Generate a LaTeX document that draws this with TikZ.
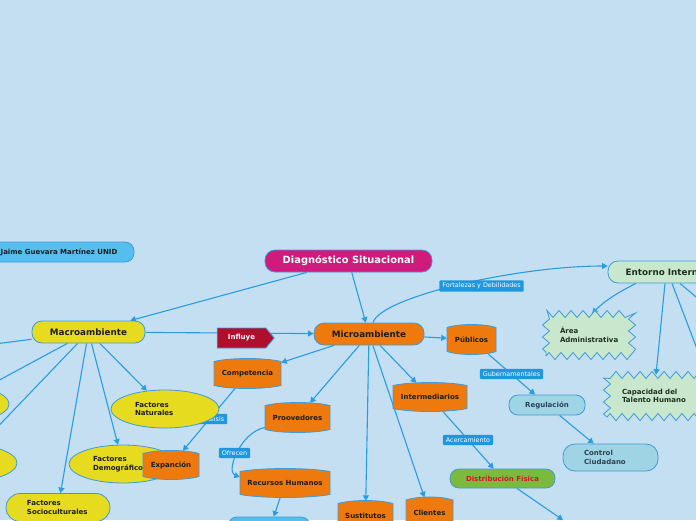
\documentclass[tikz,border=0pt]{standalone}
\usepackage{fontspec}
\setmainfont{DejaVu Sans}
\usetikzlibrary{shapes.geometric,shapes.symbols,arrows.meta,decorations.pathmorphing}
\definecolor{bg}{HTML}{C4DFF2}
\definecolor{lnc}{HTML}{2A9DE2}
\definecolor{bord}{HTML}{3D9BDB}
\definecolor{lab}{HTML}{1F97DE}
\definecolor{jaimec}{HTML}{56BEEF}
\definecolor{magen}{HTML}{D01B7D}
\definecolor{yel}{HTML}{E7DB1F}
\definecolor{ora}{HTML}{EE7A0E}
\definecolor{infl}{HTML}{B10D2D}
\definecolor{grn}{HTML}{C9E7CD}
\definecolor{lblue}{HTML}{9ED4E4}
\definecolor{dgrn}{HTML}{7DB93D}
\definecolor{dred}{HTML}{D21A2B}
\definecolor{slate}{HTML}{2C4256}
\definecolor{dtext}{HTML}{1C1C1C}
\definecolor{gtext}{HTML}{203020}
\pgfdeclarelayer{bgl}
\pgfdeclarelayer{edges}
\pgfsetlayers{bgl,edges,main}
\newcommand\tapenode[6]{%
  \path[tapeshape] (#2-#4,#3-#5+2.5) .. controls (#2-#4/2,#3-#5-1.5) and (#2+#4/2,#3-#5-1.5) .. (#2+#4,#3-#5+2.5) -- (#2+#4,#3+#5-2.5) .. controls (#2+#4/2,#3+#5+1.5) and (#2-#4/2,#3+#5+1.5) .. (#2-#4,#3+#5-2.5) -- cycle;
  \node[tapetext,minimum width=2*#4,minimum height=2*#5] (#1) at (#2,#3) {#6};}
\tikzset{
  every node/.style={font=\bfseries\fontsize{7}{8.6}\selectfont, inner sep=0pt, text=dtext},
  bigfont/.style={font=\bfseries\fontsize{8.8}{10}\selectfont},
  base/.style={draw=bord, line width=0.8pt},
  rbox/.style={base, rounded corners=9pt},
  tapeshape/.style={fill=ora, draw=bord, line width=0.8pt},
  tapetext/.style={text=dtext},
  lbl/.style={fill=lab, text=white, font=\fontsize{6.4}{7}\selectfont, inner xsep=3pt, inner ysep=2.6pt, rounded corners=1pt},
  conn/.style={draw=lnc, line width=1.1pt},
  arr/.style={conn, -{Triangle[length=5.5pt,width=6pt]}},
  ell/.style={ellipse, base, fill=yel, minimum width=108, minimum height=38},
  starbox/.style={base, fill=grn, text=gtext, decorate, decoration={zigzag,segment length=12pt,amplitude=3.5pt}},
}
\begin{document}
\begin{tikzpicture}[x=1pt,y=-1pt]
\useasboundingbox (0,0) rectangle (696,520);
\clip (0,0) rectangle (696,520);
\begin{pgfonlayer}{bgl}
\fill[bg] (0,0) rectangle (696,520);
\end{pgfonlayer}

% nodes
\node[rbox, fill=jaimec, minimum width=150, minimum height=20] (jaime) at (59,252) {Jaime Guevara Martínez UNID};
\node[rbox, fill=magen, text=white, font=\bfseries\fontsize{9.9}{11}\selectfont, minimum width=167, minimum height=22, rounded corners=10pt] (diag) at (348.5,261) {Diagnóstico Situacional};
\node[rbox, bigfont, fill=yel, minimum width=113, minimum height=22, rounded corners=10pt] (macro) at (88.5,332) {Macroambiente};
\node[rbox, bigfont, fill=ora, minimum width=110, minimum height=22, rounded corners=10pt] (micro) at (369,334) {Microambiente};
\node[signal, signal to=east, signal pointer angle=100, base, fill=infl, text=white, minimum width=57, minimum height=20] (infl) at (241.5,338) {Influye};
\node[rbox, bigfont, fill=grn, text=gtext, minimum width=114, minimum height=22, rounded corners=10pt] (ent) at (665,272) {Entorno Interno};

\tapenode{pub}{471.5}{339.5}{24.5}{14.5}{Públicos}
\tapenode{comp}{247.5}{373.5}{33.5}{14.5}{Competencia}
\tapenode{prov}{297.5}{417.5}{32.5}{14.5}{Proovedores}
\tapenode{inter}{430}{397}{37}{14}{Intermediarios}
\tapenode{rh}{285}{483}{45}{14}{Recursos Humanos}
\tapenode{sust}{365.5}{516}{27.5}{15}{Sustitutos}
\tapenode{cli}{429.5}{512.5}{23.5}{15}{Clientes}

\node[starbox, minimum width=86, minimum height=42, text width=58pt, align=left] (area) at (589,335) {Área\\Administrativa};
\node[starbox, minimum width=102, minimum height=42, text width=72pt, align=left] (cap) at (658,396) {Capacidad del\\Talento Humano};

\node[rbox, fill=lblue, text=slate, minimum width=76, minimum height=20] (reg) at (547,405) {Regulación};
\node[rbox, fill=lblue, text=slate, minimum width=95, minimum height=27, rounded corners=12pt, text width=53pt, align=left] (ctrl) at (610.5,457.5) {Control\\Ciudadano};
\node[rbox, fill=dgrn, text=dred, minimum width=105, minimum height=19] (dist) at (502.5,478.5) {Distribución Física};

\node[lbl] (fyd) at (481.5,286) {Fortalezas y Debilidades};
\node[lbl] (gub) at (511.5,374) {Gubernamentales};
\node[lbl] (acer) at (468,440) {Acercamiento};
\node[lbl] (ofr) at (234.5,453) {Ofrecen};
\node[lbl] (anal) at (212,419) {Análisis};

\node[ell, text width=60pt, align=left] (fnat) at (165,409) {Factores\\Naturales};
\node[ell, text width=60pt, align=left] (fdem) at (123,464) {Factores\\Demográficos};
\node[ell] (lell1) at (-45,404) {};
\node[ell] (lell2) at (-37,463) {};
\node[rbox, fill=yel, rounded corners=14pt, minimum width=104, minimum height=28, text width=62pt, align=left] (fsoc) at (58,507.5) {Factores\\Socioculturales};
\tapenode{exp}{171}{465}{28}{14}{Expanción}
\node[rbox, fill=jaimec, minimum width=82, minimum height=28] (bot) at (269,531) {};

\coordinate (lfree) at (-60,351);
\coordinate (dfree) at (563,520);
\coordinate (efree1) at (702,362);
\coordinate (efree2) at (702,302);

% connectors
\begin{pgfonlayer}{edges}
\draw[arr] (diag) -- (macro);
\draw[arr] (diag) -- (micro);
\draw[arr] (macro) -- (micro);
\draw[conn] (macro) -- (lfree);
\draw[arr] (macro) -- (lell1);
\draw[arr] (macro) -- (lell2);
\draw[arr] (macro) -- (fnat);
\draw[arr] (macro) -- (fdem);
\draw[arr] (macro) -- (fsoc);
\draw[arr] (micro) -- (pub);
\draw[arr] (micro) -- (comp);
\draw[arr] (micro) -- (prov);
\draw[arr] (micro) -- (inter);
\draw[arr] (micro) -- (sust);
\draw[arr] (micro) -- (cli);
\draw[arr] (pub) -- (reg);
\draw[arr] (reg) -- (ctrl);
\draw[arr] (inter) -- (dist);
\draw[arr] (dist) -- (dfree);
\draw[arr] (comp) -- (exp);
\draw[arr] (rh) -- (bot);
\draw[arr] ([xshift=4pt]micro.north) .. controls +(8,-26) and +(-90,0) .. ([yshift=6pt]ent.west);
\draw[arr] ([xshift=-29pt]ent.south) .. controls +(-20,10) and +(12,-12) .. ([xshift=3pt]area.north);
\draw[arr] ([xshift=0pt]ent.south) -- ([xshift=-2pt]cap.north);
\draw[arr] ([xshift=7pt]ent.south) -- (efree1);
\draw[arr] ([xshift=15pt]ent.south) -- (efree2);
\draw[arr] ([yshift=-10pt]prov.west) .. controls +(-25,5) and +(-14,-5) .. ([yshift=6pt]rh.west);
\end{pgfonlayer}
\end{tikzpicture}
\end{document}
